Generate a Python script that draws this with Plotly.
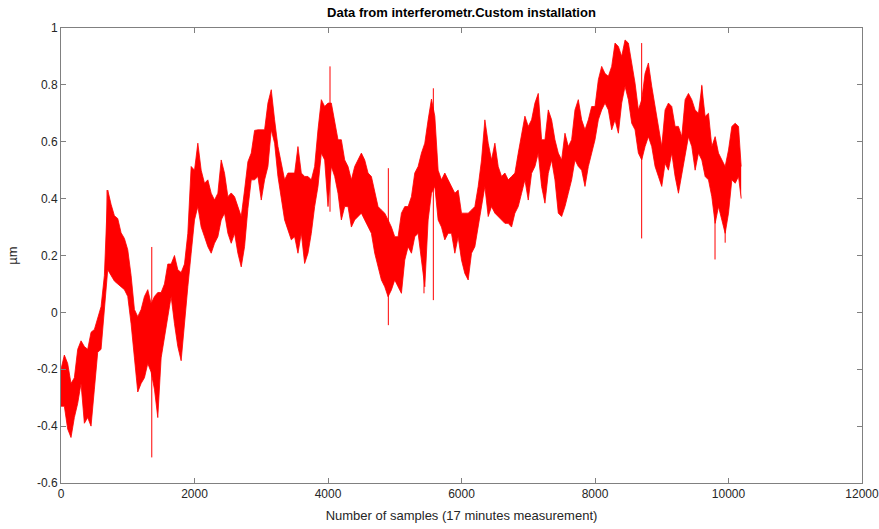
import plotly.graph_objects as go

# Sample index grid (every 50 samples) with upper / lower envelope
samples = [0, 50, 100, 150, 200, 250, 300, 350, 400, 450, 500, 550, 600, 650, 700, 750, 800, 850, 900, 950,
           1000, 1050, 1100, 1150, 1200, 1250, 1300, 1350, 1400, 1450, 1500, 1550, 1600, 1650, 1700, 1750, 1800, 1850, 1900, 1950,
           2000, 2050, 2100, 2150, 2200, 2250, 2300, 2350, 2400, 2450, 2500, 2550, 2600, 2650, 2700, 2750, 2800, 2850, 2900, 2950,
           3000, 3050, 3100, 3150, 3200, 3250, 3300, 3350, 3400, 3450, 3500, 3550, 3600, 3650, 3700, 3750, 3800, 3850, 3900, 3950,
           4000, 4050, 4100, 4150, 4200, 4250, 4300, 4350, 4400, 4450, 4500, 4550, 4600, 4650, 4700, 4750, 4800, 4850, 4900, 4950,
           5000, 5050, 5100, 5150, 5200, 5250, 5300, 5350, 5400, 5450, 5500, 5550, 5600, 5650, 5700, 5750, 5800, 5850, 5900, 5950,
           6000, 6050, 6100, 6150, 6200, 6250, 6300, 6350, 6400, 6450, 6500, 6550, 6600, 6650, 6700, 6750, 6800, 6850, 6900, 6950,
           7000, 7050, 7100, 7150, 7200, 7250, 7300, 7350, 7400, 7450, 7500, 7550, 7600, 7650, 7700, 7750, 7800, 7850, 7900, 7950,
           8000, 8050, 8100, 8150, 8200, 8250, 8300, 8350, 8400, 8450, 8500, 8550, 8600, 8650, 8700, 8750, 8800, 8850, 8900, 8950,
           9000, 9050, 9100, 9150, 9200, 9250, 9300, 9350, 9400, 9450, 9500, 9550, 9600, 9650, 9700, 9750, 9800, 9850, 9900, 9950,
           10000, 10050, 10100, 10150, 10190]

upper = [-0.20, -0.15, -0.18, -0.25, -0.23, -0.13, -0.10, -0.12, -0.13, -0.07, -0.06, -0.015, 0.02, 0.13, 0.43, 0.38, 0.34, 0.33, 0.28, 0.26,
         0.22, 0.13, 0.01, -0.015, 0.01, 0.056, 0.08, 0.03, 0.056, 0.07, 0.07, 0.10, 0.17, 0.17, 0.20, 0.15, 0.14, 0.17, 0.278, 0.513,
         0.50, 0.595, 0.50, 0.454, 0.466, 0.419, 0.395, 0.419, 0.536, 0.489, 0.407, 0.42, 0.407, 0.372, 0.337, 0.43, 0.53, 0.56, 0.64, 0.642,
         0.642, 0.642, 0.736, 0.783, 0.677, 0.583, 0.525, 0.466, 0.49, 0.49, 0.49, 0.583, 0.49, 0.478, 0.478, 0.466, 0.513, 0.642, 0.748, 0.724,
         0.736, 0.736, 0.677, 0.607, 0.607, 0.536, 0.513, 0.466, 0.513, 0.536, 0.56, 0.536, 0.49, 0.478, 0.419, 0.372, 0.36, 0.349, 0.325, 0.30,
         0.266, 0.266, 0.349, 0.372, 0.372, 0.407, 0.49, 0.513, 0.56, 0.595, 0.677, 0.75, 0.69, 0.50, 0.466, 0.49, 0.466, 0.443, 0.419, 0.43,
         0.349, 0.349, 0.349, 0.36, 0.372, 0.443, 0.536, 0.677, 0.595, 0.536, 0.595, 0.513, 0.478, 0.49, 0.466, 0.478, 0.49, 0.56, 0.63, 0.69,
         0.654, 0.677, 0.736, 0.77, 0.607, 0.607, 0.712, 0.677, 0.607, 0.56, 0.536, 0.63, 0.583, 0.607, 0.712, 0.748, 0.677, 0.642, 0.677, 0.724,
         0.724, 0.818, 0.865, 0.84, 0.83, 0.865, 0.947, 0.935, 0.90, 0.958, 0.947, 0.877, 0.806, 0.712, 0.748, 0.84, 0.877, 0.795, 0.724, 0.642,
         0.583, 0.712, 0.736, 0.724, 0.654, 0.654, 0.618, 0.748, 0.77, 0.748, 0.712, 0.70, 0.795, 0.689, 0.70, 0.583, 0.618, 0.56, 0.536, 0.513,
         0.571, 0.654, 0.665, 0.654, 0.513]

lower = [-0.33, -0.33, -0.41, -0.44, -0.37, -0.32, -0.25, -0.39, -0.37, -0.40, -0.27, -0.14, -0.13, 0.02, 0.15, 0.13, 0.11, 0.10, 0.09, 0.08,
         0.056, -0.04, -0.16, -0.28, -0.25, -0.23, -0.18, -0.21, -0.27, -0.37, -0.16, -0.085, -0.015, 0.056, -0.04, -0.12, -0.17, -0.027, 0.09, 0.208,
         0.325, 0.372, 0.30, 0.266, 0.231, 0.208, 0.243, 0.266, 0.325, 0.349, 0.278, 0.243, 0.278, 0.208, 0.16, 0.231, 0.365, 0.466, 0.466, 0.478,
         0.395, 0.466, 0.513, 0.642, 0.595, 0.478, 0.395, 0.325, 0.29, 0.255, 0.266, 0.208, 0.278, 0.172, 0.208, 0.278, 0.372, 0.443, 0.56, 0.536,
         0.372, 0.513, 0.478, 0.419, 0.325, 0.372, 0.372, 0.30, 0.325, 0.337, 0.349, 0.325, 0.30, 0.278, 0.208, 0.16, 0.114, 0.09, 0.055, 0.079,
         0.114, 0.09, 0.067, 0.184, 0.231, 0.208, 0.266, 0.278, 0.184, 0.09, 0.325, 0.419, 0.443, 0.325, 0.30, 0.255, 0.278, 0.278, 0.208, 0.266,
         0.184, 0.137, 0.114, 0.208, 0.231, 0.30, 0.372, 0.443, 0.337, 0.372, 0.349, 0.337, 0.325, 0.313, 0.313, 0.30, 0.349, 0.372, 0.419, 0.466,
         0.395, 0.489, 0.513, 0.56, 0.443, 0.384, 0.489, 0.536, 0.466, 0.349, 0.337, 0.372, 0.419, 0.466, 0.536, 0.513, 0.50, 0.443, 0.513, 0.56,
         0.607, 0.677, 0.712, 0.736, 0.712, 0.642, 0.677, 0.63, 0.736, 0.795, 0.748, 0.665, 0.642, 0.56, 0.536, 0.583, 0.618, 0.583, 0.513, 0.478,
         0.443, 0.524, 0.50, 0.56, 0.478, 0.419, 0.489, 0.56, 0.618, 0.583, 0.50, 0.56, 0.536, 0.478, 0.466, 0.407, 0.313, 0.372, 0.325, 0.278,
         0.349, 0.466, 0.454, 0.478, 0.40]

# Isolated spikes: sample index, top and bottom
spike_x = [690, 1360, 4030, 4904, 5438, 5578, 8699, 9600, 9798, 9950]
spike_hi = [0.43, 0.23, 0.865, 0.507, 0.56, 0.788, 0.947, 0.80, 0.60, 0.50]
spike_lo = [0.15, -0.51, 0.354, -0.045, 0.067, 0.043, 0.26, 0.54, 0.186, 0.245]

x_ticks = [0, 2000, 4000, 6000, 8000, 10000, 12000]
x_tick_text = ["0", "2000", "4000", "6000", "8000", "10000", "12000"]
y_ticks = [-0.6, -0.4, -0.2, 0, 0.2, 0.4, 0.6, 0.8, 1]
y_tick_text = ["-0.6", "-0.4", "-0.2", "0", "0.2", "0.4", "0.6", "0.8", "1"]

RED = "#ff0000"
fig = go.Figure()
fig.add_trace(go.Scatter(x=samples, y=lower, mode="lines", line=dict(color=RED, width=0.8),
                         showlegend=False, hoverinfo="skip"))
fig.add_trace(go.Scatter(x=samples, y=upper, mode="lines", line=dict(color=RED, width=0.8),
                         fill="tonexty", fillcolor=RED, showlegend=False, hoverinfo="skip"))

sx, sy = [], []
for x, hi, lo in zip(spike_x, spike_hi, spike_lo):
    sx += [x, x, None]
    sy += [lo, hi, None]
fig.add_trace(go.Scatter(x=sx, y=sy, mode="lines", line=dict(color=RED, width=1),
                         showlegend=False, hoverinfo="skip"))

FONT = "Liberation Sans, Arial, sans-serif"
axis_common = dict(showgrid=False, zeroline=False, showline=True, linecolor="#808080", linewidth=1,
                   mirror="ticks", ticks="inside", ticklen=5, tickcolor="#808080",
                   ticklabeloverflow="allow",
                   tickfont=dict(family=FONT, size=12, color="#262626"))

fig.update_layout(
    width=879, height=529,
    margin=dict(l=61, r=17, t=28, b=46, autoexpand=False),
    paper_bgcolor="white", plot_bgcolor="white",
    title=dict(text="<b>Data from interferometr.Custom installation</b>", x=0.525, xanchor="center",
               y=0.977, yanchor="middle",
               font=dict(family=FONT, size=13, color="black")),
    xaxis=dict(range=[0, 12000], tickmode="array", tickvals=x_ticks, ticktext=x_tick_text,
               automargin=False,
               title=dict(text="Number of samples (17 minutes measurement)", standoff=10,
                          font=dict(family=FONT, size=13, color="#262626")),
               **axis_common),
    yaxis=dict(range=[-0.6, 1], tickmode="array", tickvals=y_ticks, ticktext=y_tick_text,
               automargin=False,
               title=dict(text="µm", standoff=16,
                          font=dict(family=FONT, size=13, color="#262626")),
               **axis_common),
)

fig.write_html("out.html")
